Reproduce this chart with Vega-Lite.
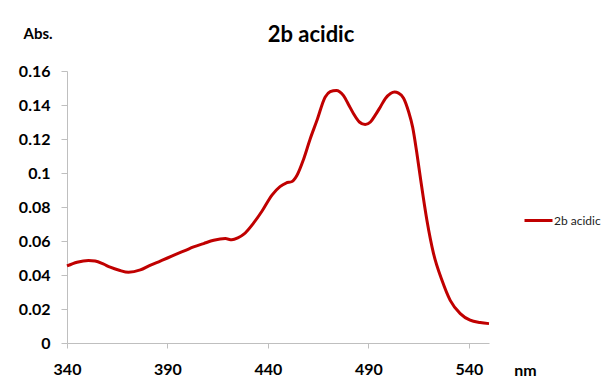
{
  "$schema": "https://vega.github.io/schema/vega-lite/v6.json",
  "autosize": "none",
  "width": 422,
  "height": 272,
  "padding": {"left": 67, "top": 71, "right": 122, "bottom": 40},
  "background": "white",
  "title": {"text": "2b acidic", "anchor": "middle", "dx": 33, "offset": 0, "dy": 38, "baseline": "alphabetic", "font": "Lato", "fontSize": 22, "fontWeight": "bold", "color": "#000000"},
  "data": {"values": [
    {"nm": 340, "abs": 0.0453, "series": "2b acidic"},
    {"nm": 345, "abs": 0.0475, "series": "2b acidic"},
    {"nm": 350.7, "abs": 0.0486, "series": "2b acidic"},
    {"nm": 354, "abs": 0.0482, "series": "2b acidic"},
    {"nm": 358, "abs": 0.0465, "series": "2b acidic"},
    {"nm": 361.5, "abs": 0.0446, "series": "2b acidic"},
    {"nm": 366, "abs": 0.0428, "series": "2b acidic"},
    {"nm": 370.6, "abs": 0.0416, "series": "2b acidic"},
    {"nm": 376.5, "abs": 0.043, "series": "2b acidic"},
    {"nm": 381, "abs": 0.0455, "series": "2b acidic"},
    {"nm": 386.4, "abs": 0.0482, "series": "2b acidic"},
    {"nm": 390, "abs": 0.05, "series": "2b acidic"},
    {"nm": 394.7, "abs": 0.0524, "series": "2b acidic"},
    {"nm": 399, "abs": 0.0545, "series": "2b acidic"},
    {"nm": 403, "abs": 0.0565, "series": "2b acidic"},
    {"nm": 408, "abs": 0.0585, "series": "2b acidic"},
    {"nm": 413, "abs": 0.0604, "series": "2b acidic"},
    {"nm": 418.8, "abs": 0.0614, "series": "2b acidic"},
    {"nm": 422, "abs": 0.0607, "series": "2b acidic"},
    {"nm": 425, "abs": 0.0618, "series": "2b acidic"},
    {"nm": 428, "abs": 0.064, "series": "2b acidic"},
    {"nm": 432.8, "abs": 0.0705, "series": "2b acidic"},
    {"nm": 437, "abs": 0.0775, "series": "2b acidic"},
    {"nm": 442, "abs": 0.087, "series": "2b acidic"},
    {"nm": 446, "abs": 0.092, "series": "2b acidic"},
    {"nm": 449, "abs": 0.0941, "series": "2b acidic"},
    {"nm": 452, "abs": 0.095, "series": "2b acidic"},
    {"nm": 454.4, "abs": 0.0985, "series": "2b acidic"},
    {"nm": 457.7, "abs": 0.108, "series": "2b acidic"},
    {"nm": 461, "abs": 0.12, "series": "2b acidic"},
    {"nm": 464.4, "abs": 0.131, "series": "2b acidic"},
    {"nm": 468.5, "abs": 0.1447, "series": "2b acidic"},
    {"nm": 471, "abs": 0.1478, "series": "2b acidic"},
    {"nm": 474, "abs": 0.1486, "series": "2b acidic"},
    {"nm": 477.6, "abs": 0.1455, "series": "2b acidic"},
    {"nm": 480, "abs": 0.1405, "series": "2b acidic"},
    {"nm": 482.6, "abs": 0.1349, "series": "2b acidic"},
    {"nm": 485.5, "abs": 0.13, "series": "2b acidic"},
    {"nm": 488.4, "abs": 0.1285, "series": "2b acidic"},
    {"nm": 491, "abs": 0.13, "series": "2b acidic"},
    {"nm": 493.4, "abs": 0.134, "series": "2b acidic"},
    {"nm": 496, "abs": 0.139, "series": "2b acidic"},
    {"nm": 498.4, "abs": 0.1438, "series": "2b acidic"},
    {"nm": 501, "abs": 0.1468, "series": "2b acidic"},
    {"nm": 503, "abs": 0.1476, "series": "2b acidic"},
    {"nm": 505, "abs": 0.147, "series": "2b acidic"},
    {"nm": 507.5, "abs": 0.144, "series": "2b acidic"},
    {"nm": 510, "abs": 0.136, "series": "2b acidic"},
    {"nm": 512, "abs": 0.127, "series": "2b acidic"},
    {"nm": 514, "abs": 0.1125, "series": "2b acidic"},
    {"nm": 516, "abs": 0.096, "series": "2b acidic"},
    {"nm": 519.1, "abs": 0.0722, "series": "2b acidic"},
    {"nm": 522.4, "abs": 0.0526, "series": "2b acidic"},
    {"nm": 526.6, "abs": 0.0369, "series": "2b acidic"},
    {"nm": 530.7, "abs": 0.0251, "series": "2b acidic"},
    {"nm": 535.7, "abs": 0.0173, "series": "2b acidic"},
    {"nm": 540.6, "abs": 0.0134, "series": "2b acidic"},
    {"nm": 545.6, "abs": 0.012, "series": "2b acidic"},
    {"nm": 550, "abs": 0.0114, "series": "2b acidic"}
  ]},
  "mark": {"type": "line", "strokeWidth": 3, "interpolate": "monotone"},
  "encoding": {
    "x": {"field": "nm", "type": "quantitative",
      "scale": {"domain": [340, 550], "nice": false, "zero": false},
      "axis": {"values": [340, 390, 440, 490, 540], "grid": false, "tickSize": 5, "labelPadding": 13,
        "labelFont": "Lato", "labelFontSize": 16, "labelFontWeight": "bold", "labelColor": "#000000", "labelFlush": false,
        "domainColor": "#bfbfbf", "tickColor": "#bfbfbf",
        "title": "nm", "titleFont": "Lato", "titleFontSize": 16, "titleFontWeight": "bold", "titleColor": "#000000",
        "titleX": 458, "titleY": 32, "titleAlign": "center", "titleBaseline": "alphabetic"}},
    "y": {"field": "abs", "type": "quantitative",
      "scale": {"domain": [0, 0.16], "nice": false},
      "axis": {"values": [0, 0.02, 0.04, 0.06, 0.08, 0.1, 0.12, 0.14, 0.16], "format": "~g", "grid": false, "tickSize": 6, "labelPadding": 11,
        "labelFont": "Lato", "labelFontSize": 16, "labelFontWeight": "bold", "labelColor": "#000000",
        "domainColor": "#bfbfbf", "tickColor": "#bfbfbf",
        "title": "Abs.", "titleFont": "Lato", "titleFontSize": 15, "titleFontWeight": "bold", "titleColor": "#000000",
        "titleAngle": 0, "titleX": -44, "titleY": -33, "titleAlign": "left", "titleBaseline": "alphabetic"}},
    "color": {"field": "series", "type": "nominal",
      "scale": {"domain": ["2b acidic"], "range": ["#c00000"]},
      "legend": {"title": null, "orient": "none", "legendX": 456, "legendY": 134, "symbolType": "stroke", "symbolSize": 784, "symbolStrokeWidth": 3,
        "labelFont": "Lato", "labelFontSize": 12, "labelColor": "#222222", "labelOffset": 0}}
  },
  "config": {"view": {"stroke": null}}
}
